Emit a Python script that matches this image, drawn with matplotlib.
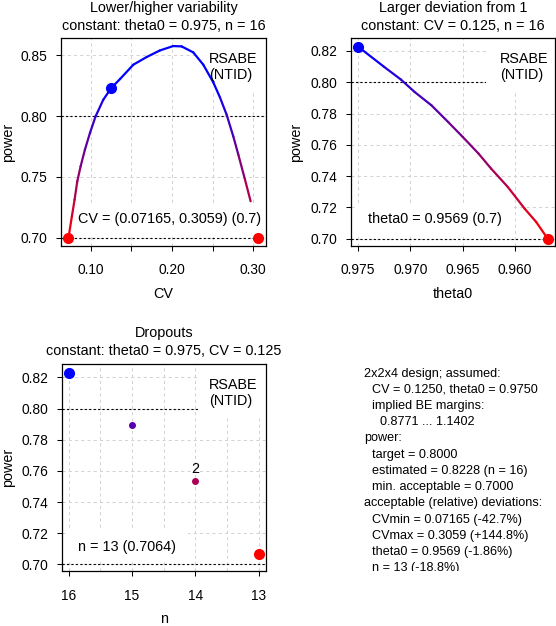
import matplotlib
matplotlib.use("Agg")
import matplotlib.pyplot as plt
import numpy as np
from matplotlib.collections import LineCollection
from matplotlib.patches import Rectangle

plt.rcParams["font.family"] = ["Liberation Sans", "DejaVu Sans"]
plt.rcParams["font.size"] = 10.4

W, H = 556, 626

# power vs CV (theta0 = 0.975, n = 16)
cv = [0.07165, 0.0734, 0.0770, 0.0803, 0.0836, 0.0877, 0.0930, 0.0992, 0.1061,
      0.1156, 0.1254, 0.1361, 0.1525, 0.1689, 0.1852, 0.2016, 0.2119, 0.2262,
      0.2385, 0.2508, 0.2590, 0.2672, 0.2754, 0.2816, 0.2898, 0.2967]
pwr_cv = [0.7000, 0.7027, 0.7178, 0.7314, 0.7464, 0.7587, 0.7724, 0.7861, 0.7997,
          0.8134, 0.8230, 0.8303, 0.8421, 0.8484, 0.8538, 0.8574, 0.8571, 0.8522,
          0.8421, 0.8276, 0.8153, 0.8011, 0.7833, 0.7683, 0.7478, 0.7301]
cv_limits = [0.07165, 0.3059]

# power vs theta0 (CV = 0.125, n = 16)
theta0 = [0.9750, 0.9725, 0.9709, 0.9696, 0.9680, 0.9664, 0.9650, 0.9635,
          0.9623, 0.9607, 0.9591, 0.9580, 0.9569]
pwr_theta0 = [0.8228, 0.8098, 0.8017, 0.7938, 0.7853, 0.7746, 0.7650, 0.7544,
              0.7448, 0.7330, 0.7192, 0.7107, 0.7000]

# power vs n (dropouts)
n = [16, 15, 14, 13]
pwr_n = [0.8228, 0.7896, 0.7535, 0.7064]

CV0, THETA0, N0, PWR0 = 0.125, 0.975, 16, 0.8228
PWR_MIN, PWR_TGT = 0.70, 0.80

info = [(0, "2x2x4 design; assumed:"),
        (1, "CV = 0.1250, theta0 = 0.9750"),
        (1, "implied BE margins:"),
        (2, "0.8771 ... 1.1402"),
        (0, "power:"),
        (1, "target = 0.8000"),
        (1, "estimated = 0.8228 (n = 16)"),
        (1, "min. acceptable = 0.7000"),
        (0, "acceptable (relative) deviations:"),
        (1, "CVmin = 0.07165 (-42.7%)"),
        (1, "CVmax = 0.3059 (+144.8%)"),
        (1, "theta0 = 0.9569 (-1.86%)"),
        (1, "n = 13 (-18.8%)")]

fig = plt.figure(figsize=(W / 100, H / 100), dpi=100)


def px_axes(l, t, r, b):
    return fig.add_axes([l / W, 1 - b / H, (r - l) / W, (b - t) / H])


def ftext(x, y, s, **kw):
    return fig.text(x / W, 1 - y / H, s, **kw)


def ramp(p):
    t = np.clip((np.asarray(p) - PWR_MIN) / (PWR0 - PWR_MIN), 0, 1)
    return np.column_stack([1 - t, np.zeros_like(t), t])


def white_box(ax, l, t, r, b):
    ax.add_patch(Rectangle((l / W, 1 - b / H), (r - l) / W, (b - t) / H,
                           transform=fig.transFigure, facecolor="white",
                           edgecolor="none", zorder=3))


def style(ax, xt, xl, yt, xgrid, ygrid):
    for g in xgrid:
        ax.axvline(g, color="#d3d3d3", lw=0.75, ls=(0, (3, 3)), zorder=1)
    for g in ygrid:
        ax.axhline(g, color="#d3d3d3", lw=0.75, ls=(0, (3, 3)), zorder=1)
    ax.set_xticks(xt)
    ax.set_xticklabels(xl)
    ax.set_yticks(yt)
    ax.set_yticklabels([f"{v:.2f}" for v in yt])
    ax.tick_params(axis="both", direction="out", length=3.6, width=0.75,
                   labelsize=9.9)
    ax.tick_params(axis="x", pad=9)
    ax.tick_params(axis="y", pad=6)
    for s in ax.spines.values():
        s.set_linewidth(0.9)
        s.set_zorder(8)


def colored_line(ax, x, y):
    pts = np.column_stack([x, y])
    segs = np.stack([pts[:-1], pts[1:]], axis=1)
    mid = (np.asarray(y[:-1]) + np.asarray(y[1:])) / 2
    ax.add_collection(LineCollection(segs, colors=ramp(mid), linewidths=1.6,
                                     zorder=4, capstyle="round"))


def hline(ax, y):
    ax.axhline(y, color="black", lw=0.8, ls=(0, (2, 2)), zorder=2)


# ---- panel 1: CV
ax1 = px_axes(61, 38, 266, 246)
ax1.set_xlim(0.0636, 0.3156)
ax1.set_ylim(0.6934, 0.864)
style(ax1, [0.10, 0.15, 0.20, 0.25, 0.30], ["0.10", "", "0.20", "", "0.30"],
      [0.70, 0.75, 0.80, 0.85], [0.10, 0.15, 0.20, 0.25, 0.30],
      [0.70, 0.75, 0.80, 0.85])
hline(ax1, PWR_TGT)
hline(ax1, PWR_MIN)
white_box(ax1, 198, 38, 266, 92)
white_box(ax1, 67, 205, 266, 236)
colored_line(ax1, cv, pwr_cv)
ax1.plot([CV0], [PWR0], "o", color="blue", ms=7, zorder=5)
ax1.plot(cv_limits, [PWR_MIN] * 2, "o", color="red", ms=7, zorder=5)

# ---- panel 2: theta0
ax2 = px_axes(351, 38, 555, 246)
ax2.set_xlim(0.97567, 0.9562)
ax2.set_ylim(0.6953, 0.8283)
yt2 = [0.70, 0.72, 0.74, 0.76, 0.78, 0.80, 0.82]
style(ax2, [0.975, 0.970, 0.965, 0.960], ["0.975", "0.970", "0.965", "0.960"],
      yt2, [0.975, 0.970, 0.965, 0.960], yt2)
hline(ax2, PWR_TGT)
hline(ax2, PWR_MIN)
white_box(ax2, 486, 38, 555, 92)
white_box(ax2, 357, 205, 514, 236)
colored_line(ax2, theta0, pwr_theta0)
ax2.plot([theta0[0]], [pwr_theta0[0]], "o", color="blue", ms=7, zorder=5)
ax2.plot([theta0[-1]], [pwr_theta0[-1]], "o", color="red", ms=7, zorder=5)

# ---- panel 3: dropouts
ax3 = px_axes(62, 364, 266, 571)
ax3.set_xlim(16.104, 12.883)
ax3.set_ylim(0.6957, 0.8286)
style(ax3, n, [str(v) for v in n], yt2, np.arange(13, 16.5, 0.5), yt2)
hline(ax3, PWR_TGT)
hline(ax3, PWR_MIN)
white_box(ax3, 198, 364, 266, 417)
white_box(ax3, 67, 530, 188, 561)
ramp_n = [(k / 3, 0, 1 - k / 3) for k in range(len(n))]
for i, (xv, yv) in enumerate(zip(n, pwr_n)):
    big = i in (0, len(n) - 1)
    ax3.plot([xv], [yv], "o", color=ramp_n[i], ms=7 if big else 4, zorder=5)
ax3.annotate("2", (n[2], pwr_n[2]), xytext=(0, 5.5), textcoords="offset points",
             ha="center", va="baseline", fontsize=10.4, zorder=6)

# ---- legend texts
for x0, y0 in [(209, 63.3), (499.7, 63.3), (209, 389)]:
    ftext(x0, y0, "RSABE", ha="left", va="baseline", zorder=10)
    ftext(x0, y0 + 15.5, "(NTID)", ha="left", va="baseline", zorder=10)
ftext(78.3, 223.3, "CV = (0.07165, 0.3059) (0.7)", ha="left", va="baseline")
ftext(368.3, 223.5, "theta0 = 0.9569 (0.7)", ha="left", va="baseline")
ftext(78.3, 550.7, "n = 13 (0.7064)", ha="left", va="baseline")

# ---- titles and axis labels
ftext(163.5, 11.7, "Lower/higher variability", ha="center", va="baseline")
ftext(163.5, 29.5, "constant: theta0 = 0.975, n = 16", ha="center", va="baseline")
ftext(453, 11.7, "Larger deviation from 1", ha="center", va="baseline")
ftext(453, 29.5, "constant: CV = 0.125, n = 16", ha="center", va="baseline")
ftext(164, 336.7, "Dropouts", ha="center", va="baseline")
ftext(164, 355, "constant: theta0 = 0.975, CV = 0.125", ha="center", va="baseline")
ftext(163.5, 297.5, "CV", ha="center", va="baseline")
ftext(453, 297.5, "theta0", ha="center", va="baseline")
ftext(164, 623, "n", ha="center", va="baseline")
for x0, y0 in [(8, 142), (296.5, 142), (8, 467.5)]:
    ftext(x0, y0, "power", ha="center", va="center", rotation=90)

# ---- info block (clipped like the device region)
ax4 = px_axes(278, 364, 556, 570.5)
ax4.set_xlim(0, 1)
ax4.set_ylim(0, 1)
ax4.axis("off")
for k, (lev, s) in enumerate(info):
    xp = 364.3 + 8 * lev
    yp = 376.7 + 16.2 * k
    ax4.text(xp / W, 1 - yp / H, s, transform=fig.transFigure, ha="left",
             va="baseline", fontsize=9.1, clip_on=True)

fig.savefig("out.png", dpi=100)
